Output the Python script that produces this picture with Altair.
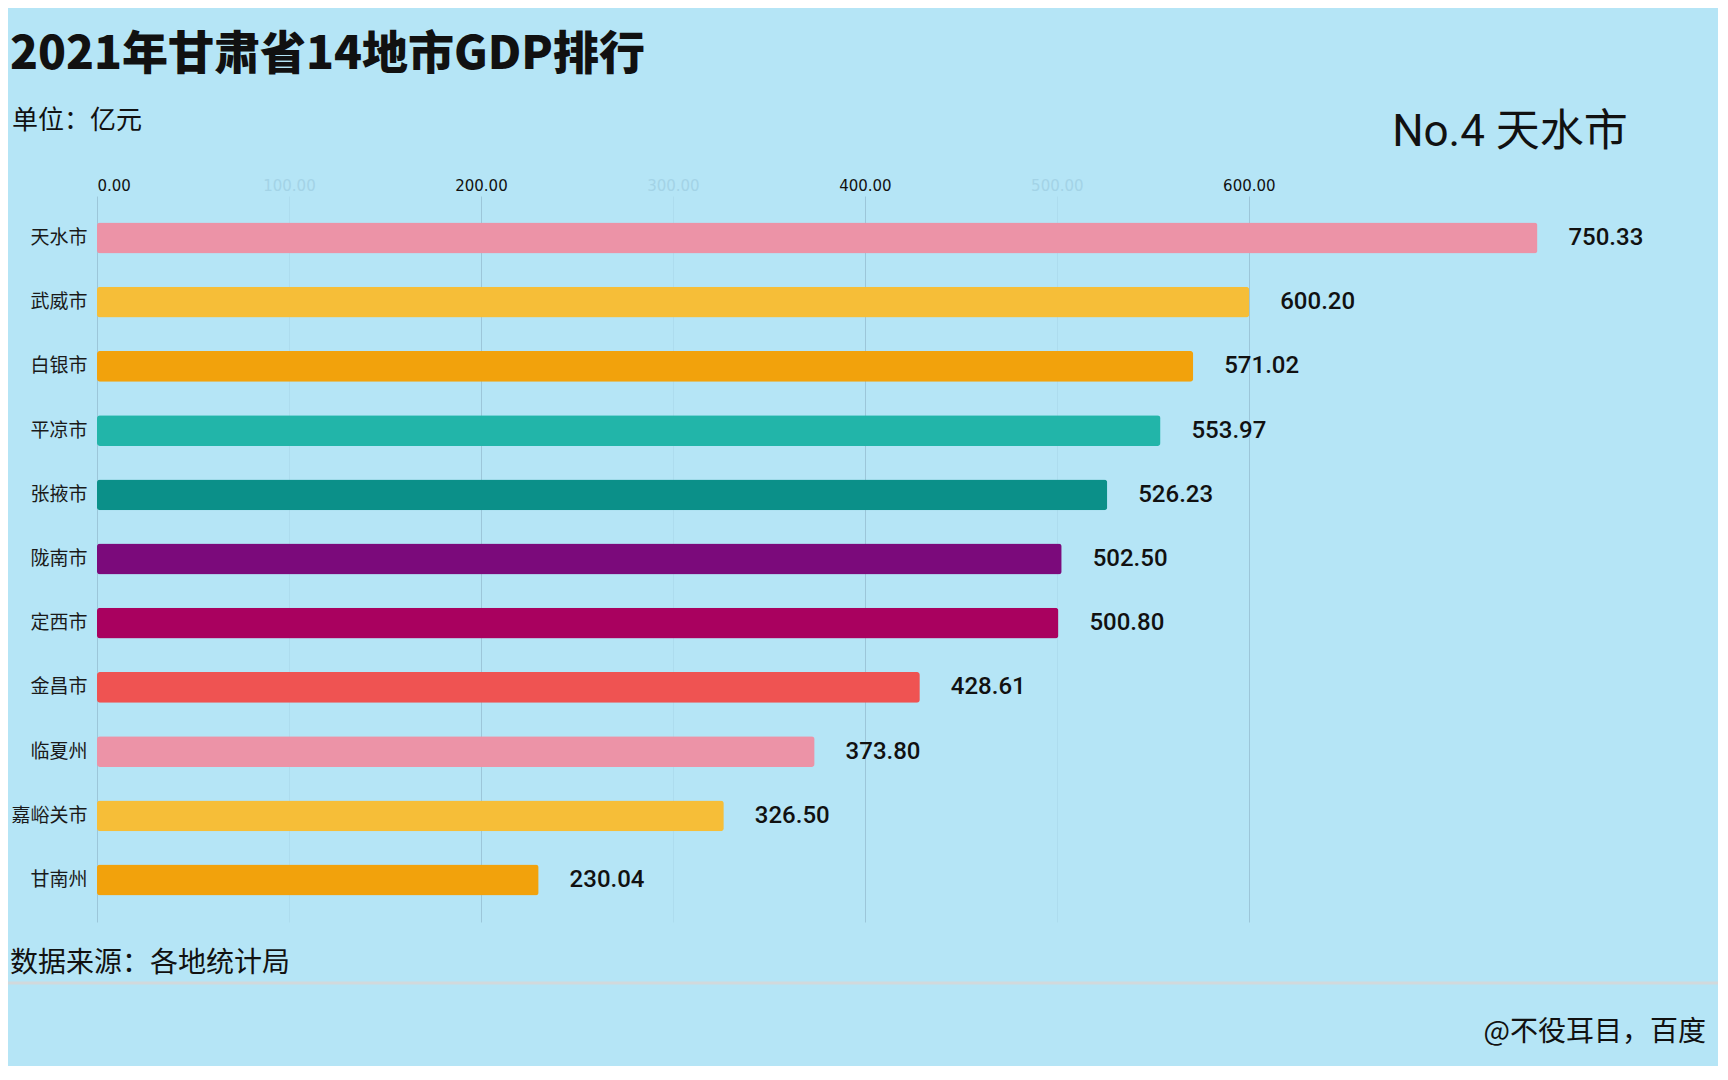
import altair as alt
import pandas as pd

cities = ["天水市", "武威市", "白银市", "平凉市", "张掖市", "陇南市", "定西市",
          "金昌市", "临夏州", "嘉峪关市", "甘南州"]
values = [750.33, 600.20, 571.02, 553.97, 526.23, 502.50, 500.80,
          428.61, 373.80, 326.50, 230.04]
colors = ["#ec93a7", "#f6be38", "#f2a20c", "#22b5a9", "#0b9089", "#7b0a7b",
          "#a9015f", "#ef5352", "#ec93a7", "#f6be38", "#f2a20c"]
tick_values = [0, 100, 200, 300, 400, 500, 600]

title_text = "2021年甘肃省14地市GDP排行"
unit_text = "单位：亿元"
rank_text = "No.4 天水市"
source_text = "数据来源：各地统计局"
credit_text = "@不役耳目，百度"

df = pd.DataFrame({"city": cities, "gdp": values})
one = pd.DataFrame({"k": [0]})

W, H = 1459, 726
BG = "#b5e5f6"
CJK = "Noto Sans CJK SC"

x_enc = alt.X(
    "gdp:Q",
    scale=alt.Scale(domain=[0, 760], nice=False),
    axis=alt.Axis(
        orient="top", values=tick_values, format=".2f", title=None,
        labelFont="DejaVu Sans", labelFontSize=15,
        labelColor={"condition": {"test": "datum.value % 200 === 0", "value": "#111111"},
                    "value": "#a3d3e6"},
        gridColor={"condition": {"test": "datum.value % 200 === 0", "value": "#9cc6d9"},
                   "value": "#addcee"},
        gridWidth=1, domain=False, ticks=False, labelPadding=3,
    ),
)
y_enc = alt.Y(
    "city:N", sort=cities,
    scale=alt.Scale(paddingInner=0.52, paddingOuter=0.414),
    axis=alt.Axis(title=None, domain=False, ticks=False, grid=False,
                  labelFont=CJK, labelFontSize=19, labelColor="#1a1a1a",
                  labelPadding=10),
)

bars = alt.Chart(df).mark_bar(cornerRadius=3).encode(
    x=x_enc, y=y_enc,
    color=alt.Color("city:N", scale=alt.Scale(domain=cities, range=colors), legend=None),
)

labels = alt.Chart(df).mark_text(
    align="left", baseline="middle", dx=31, font="Roboto", fontSize=24,
    fontWeight=500, color="#111111",
).encode(
    x=alt.X("gdp:Q"), y=alt.Y("city:N", sort=cities),
    text=alt.Text("gdp:Q", format=".2f"),
)

def txt(s, x, y, size, align="left", font=CJK, weight="normal"):
    return alt.Chart(one).mark_text(
        align=align, baseline="middle", font=font, fontSize=size,
        fontWeight=weight, color="#111111",
    ).encode(x=alt.value(x), y=alt.value(y), text=alt.value(s))

title = txt(title_text, -87, -141, 46, align="left", weight=900)
unit = txt(unit_text, -85, -75, 26, align="left")
rank = txt(rank_text, 1413, -63, 44, align="center", font="Roboto, 'Noto Sans CJK SC'")
source = txt(source_text, -87, 768, 28, align="left")
credit = txt(credit_text, 1609, 837, 28, align="right")

sep = alt.Chart(one).mark_rule(color="#d2d9dc", strokeWidth=3).encode(
    x=alt.value(-100), x2=alt.value(1700), y=alt.value(787)
)

chart = alt.layer(bars, labels, title, unit, rank, source, credit, sep).properties(
    width=W, height=H,
    autosize=alt.AutoSizeParams(type="none"),
    padding={"left": 89, "top": 188, "right": 162, "bottom": 144},
    background=BG,
).configure_view(stroke=None)

chart.save("out.html", embed_options={"renderer": "svg", "actions": False})
